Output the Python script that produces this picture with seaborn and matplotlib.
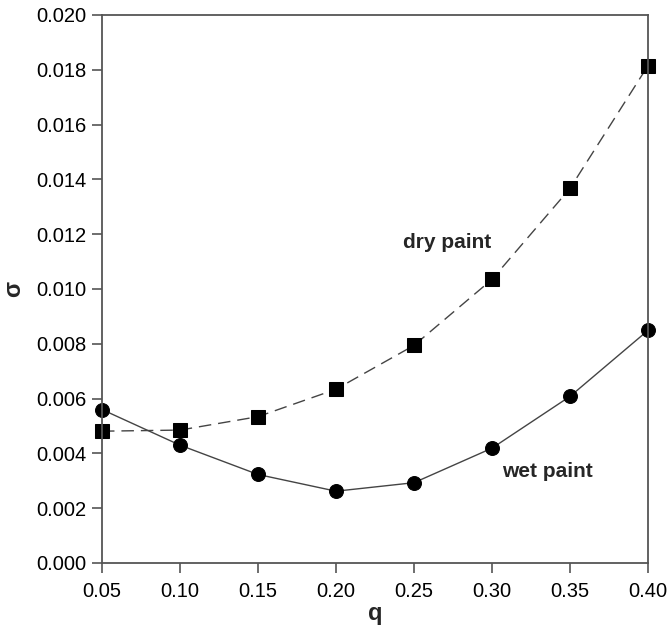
import matplotlib
matplotlib.use("Agg")
import matplotlib.pyplot as plt
import seaborn as sns
import pandas as pd

q = [0.05, 0.10, 0.15, 0.20, 0.25, 0.30, 0.35, 0.40]
dry_paint = [0.00481, 0.00485, 0.00534, 0.00634, 0.00794, 0.01035, 0.01367, 0.01815]
wet_paint = [0.00560, 0.00430, 0.00323, 0.00262, 0.00293, 0.00419, 0.00608, 0.00849]
x_ticks = [0.05, 0.10, 0.15, 0.20, 0.25, 0.30, 0.35, 0.40]
y_ticks = [0.000, 0.002, 0.004, 0.006, 0.008, 0.010, 0.012, 0.014, 0.016, 0.018, 0.020]

sns.set_theme(style="ticks")
plt.rcParams['font.family'] = ['Liberation Sans', 'DejaVu Sans']

df = pd.DataFrame({"q": q, "dry": dry_paint, "wet": wet_paint})

fig = plt.figure(figsize=(6.7, 6.31), dpi=100)
ax = fig.add_axes([0.1522, 0.1078, 0.815, 0.8685])

line_col = "#444444"
sns.lineplot(data=df, x="q", y="dry", ax=ax, color=line_col, linewidth=1.0,
             marker="s", markersize=10, markerfacecolor="black",
             markeredgecolor="black")
ax.lines[-1].set_linestyle((0, (9, 5)))
sns.lineplot(data=df, x="q", y="wet", ax=ax, color=line_col, linewidth=1.0,
             marker="o", markersize=10, markerfacecolor="black",
             markeredgecolor="black")

ax.set_xlim(0.05, 0.40)
ax.set_ylim(0.0, 0.020)
ax.set_xticks(x_ticks)
ax.set_xticklabels([f"{v:.2f}" for v in x_ticks])
ax.set_yticks(y_ticks)
ax.set_yticklabels([f"{v:.3f}" for v in y_ticks])
for sp in ax.spines.values():
    sp.set_visible(True)
    sp.set_color("#555555")
    sp.set_linewidth(1.3)
ax.tick_params(axis="both", direction="out", length=7, width=1.2, color="#555555",
               labelsize=14.5, labelcolor="black")
ax.tick_params(axis="x", pad=7)
ax.tick_params(axis="y", pad=4.5)
for m in ax.lines:
    m.set_clip_on(False)

ax.set_xlabel("q", fontsize=17, fontweight="bold")
ax.set_ylabel("σ", fontsize=17, fontweight="bold")
ax.xaxis.set_label_coords(0.5, -0.071)
ax.yaxis.set_label_coords(-0.141, 0.5)

ax.text(0.243, 0.0117, "dry paint", fontsize=15, fontweight="bold", va="center", ha="left")
ax.text(0.3064, 0.00335, "wet paint", fontsize=15, fontweight="bold", va="center", ha="left")

fig.savefig("out.png", dpi=100)
